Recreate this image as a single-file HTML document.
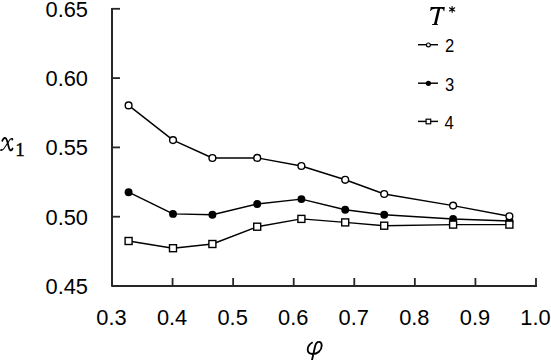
<!DOCTYPE html>
<html><head><meta charset="utf-8"><style>
html,body{margin:0;padding:0;background:#fff;}
svg{display:block;}
.lab{font-family:"Liberation Sans",sans-serif;font-size:22.5px;fill:#000;}
.leg{font-family:"Liberation Sans",sans-serif;font-size:17.5px;fill:#000;}
.mi{font-family:"Liberation Serif",serif;font-style:italic;fill:#000;}
.rm{font-family:"Liberation Serif",serif;fill:#000;}
</style></head><body>
<svg width="551" height="360" viewBox="0 0 551 360">
<path d="M112.0 8 V286.0 H536.99" fill="none" stroke="#262626" stroke-width="2" stroke-linejoin="round"/>
<text transform="translate(88,293.80) scale(0.97,1)" class="lab" text-anchor="end">0.45</text>
<line x1="112.0" y1="216.70" x2="120" y2="216.70" stroke="#262626" stroke-width="1.8"/>
<text transform="translate(88,224.50) scale(0.97,1)" class="lab" text-anchor="end">0.50</text>
<line x1="112.0" y1="147.40" x2="120" y2="147.40" stroke="#262626" stroke-width="1.8"/>
<text transform="translate(88,155.20) scale(0.97,1)" class="lab" text-anchor="end">0.55</text>
<line x1="112.0" y1="78.10" x2="120" y2="78.10" stroke="#262626" stroke-width="1.8"/>
<text transform="translate(88,85.90) scale(0.97,1)" class="lab" text-anchor="end">0.60</text>
<line x1="112.0" y1="8.80" x2="120" y2="8.80" stroke="#262626" stroke-width="1.8"/>
<text transform="translate(88,16.60) scale(0.97,1)" class="lab" text-anchor="end">0.65</text>
<text transform="translate(111.50,325.3) scale(0.97,1)" class="lab" text-anchor="middle">0.3</text>
<line x1="172.57" y1="278" x2="172.57" y2="286.0" stroke="#262626" stroke-width="1.8"/>
<text transform="translate(172.07,325.3) scale(0.97,1)" class="lab" text-anchor="middle">0.4</text>
<line x1="233.14" y1="278" x2="233.14" y2="286.0" stroke="#262626" stroke-width="1.8"/>
<text transform="translate(232.64,325.3) scale(0.97,1)" class="lab" text-anchor="middle">0.5</text>
<line x1="293.71" y1="278" x2="293.71" y2="286.0" stroke="#262626" stroke-width="1.8"/>
<text transform="translate(293.21,325.3) scale(0.97,1)" class="lab" text-anchor="middle">0.6</text>
<line x1="354.28" y1="278" x2="354.28" y2="286.0" stroke="#262626" stroke-width="1.8"/>
<text transform="translate(353.78,325.3) scale(0.97,1)" class="lab" text-anchor="middle">0.7</text>
<line x1="414.85" y1="278" x2="414.85" y2="286.0" stroke="#262626" stroke-width="1.8"/>
<text transform="translate(414.35,325.3) scale(0.97,1)" class="lab" text-anchor="middle">0.8</text>
<line x1="475.42" y1="278" x2="475.42" y2="286.0" stroke="#262626" stroke-width="1.8"/>
<text transform="translate(474.92,325.3) scale(0.97,1)" class="lab" text-anchor="middle">0.9</text>
<line x1="535.99" y1="278" x2="535.99" y2="286.0" stroke="#262626" stroke-width="1.8"/>
<text transform="translate(535.49,325.3) scale(0.97,1)" class="lab" text-anchor="middle">1.0</text>
<polyline points="128.6,192.2 173.0,213.9 212.4,214.8 257.2,204.0 301.4,199.1 345.2,209.8 384.2,214.8 453.1,219.0 509.4,221.0" fill="none" stroke="#000" stroke-width="1.45" stroke-linejoin="round"/>
<polyline points="128.6,105.4 173.0,140.1 212.4,158.0 257.2,157.9 301.4,166.0 345.2,179.8 384.2,194.0 453.1,205.6 509.4,216.3" fill="none" stroke="#000" stroke-width="1.45" stroke-linejoin="round"/>
<polyline points="128.6,241.0 173.0,248.2 212.4,244.0 257.2,226.7 301.4,218.9 345.2,222.4 384.2,225.7 453.1,224.6 509.4,224.6" fill="none" stroke="#000" stroke-width="1.45" stroke-linejoin="round"/>
<circle cx="128.6" cy="192.2" r="3.95" fill="#000"/>
<circle cx="173.0" cy="213.9" r="3.95" fill="#000"/>
<circle cx="212.4" cy="214.8" r="3.95" fill="#000"/>
<circle cx="257.2" cy="204.0" r="3.95" fill="#000"/>
<circle cx="301.4" cy="199.1" r="3.95" fill="#000"/>
<circle cx="345.2" cy="209.8" r="3.95" fill="#000"/>
<circle cx="384.2" cy="214.8" r="3.95" fill="#000"/>
<circle cx="453.1" cy="219.0" r="3.95" fill="#000"/>
<circle cx="509.4" cy="221.0" r="3.95" fill="#000"/>
<circle cx="128.6" cy="105.4" r="3.4" fill="#fff" stroke="#000" stroke-width="1.4"/>
<circle cx="173.0" cy="140.1" r="3.4" fill="#fff" stroke="#000" stroke-width="1.4"/>
<circle cx="212.4" cy="158.0" r="3.4" fill="#fff" stroke="#000" stroke-width="1.4"/>
<circle cx="257.2" cy="157.9" r="3.4" fill="#fff" stroke="#000" stroke-width="1.4"/>
<circle cx="301.4" cy="166.0" r="3.4" fill="#fff" stroke="#000" stroke-width="1.4"/>
<circle cx="345.2" cy="179.8" r="3.4" fill="#fff" stroke="#000" stroke-width="1.4"/>
<circle cx="384.2" cy="194.0" r="3.4" fill="#fff" stroke="#000" stroke-width="1.4"/>
<circle cx="453.1" cy="205.6" r="3.4" fill="#fff" stroke="#000" stroke-width="1.4"/>
<circle cx="509.4" cy="216.3" r="3.4" fill="#fff" stroke="#000" stroke-width="1.4"/>
<rect x="125.10" y="237.50" width="7" height="7" fill="#fff" stroke="#000" stroke-width="1.4"/>
<rect x="169.50" y="244.70" width="7" height="7" fill="#fff" stroke="#000" stroke-width="1.4"/>
<rect x="208.90" y="240.50" width="7" height="7" fill="#fff" stroke="#000" stroke-width="1.4"/>
<rect x="253.70" y="223.20" width="7" height="7" fill="#fff" stroke="#000" stroke-width="1.4"/>
<rect x="297.90" y="215.40" width="7" height="7" fill="#fff" stroke="#000" stroke-width="1.4"/>
<rect x="341.70" y="218.90" width="7" height="7" fill="#fff" stroke="#000" stroke-width="1.4"/>
<rect x="380.70" y="222.20" width="7" height="7" fill="#fff" stroke="#000" stroke-width="1.4"/>
<rect x="449.60" y="221.10" width="7" height="7" fill="#fff" stroke="#000" stroke-width="1.4"/>
<rect x="505.90" y="221.10" width="7" height="7" fill="#fff" stroke="#000" stroke-width="1.4"/>
<line x1="418" y1="44.7" x2="438" y2="44.7" stroke="#000" stroke-width="1.45"/>
<line x1="418" y1="83.2" x2="438" y2="83.2" stroke="#000" stroke-width="1.45"/>
<line x1="418" y1="121.4" x2="438" y2="121.4" stroke="#000" stroke-width="1.45"/>
<circle cx="428.4" cy="44.9" r="1.9" fill="#fff" stroke="#000" stroke-width="1.2"/>
<circle cx="428.4" cy="83.3" r="2.6" fill="#000"/>
<rect x="426.1" y="119.2" width="4.6" height="4.6" fill="#fff" stroke="#000" stroke-width="1.2"/>
<text transform="translate(445,51.7) scale(0.95,1)" class="leg">2</text>
<text transform="translate(445,90.7) scale(0.95,1)" class="leg">3</text>
<text transform="translate(444.4,128.8) scale(0.95,1)" class="leg">4</text>
<path d="M430.7,7 L444.8,7 L444.3,11.3 L443.7,11.3 C443.6,9.8 443,8.8 441.4,8.8 L440.2,8.8 L436.8,23.6 C436.7,24.1 437.2,24.2 437.9,24.2 L437.8,25 L432,25 L432.1,24.2 C433.2,24.2 433.9,24 434.1,23.6 L437.6,8.8 L435.6,8.8 C433,8.8 431.6,9.6 430.9,11 L430.2,11 Z" fill="#000"/>
<g stroke="#000" stroke-width="1.15" stroke-linecap="round"><path d="M452.1,9.4 L452.1,6.6 M452.1,9.4 L452.2,12.3 M452.1,9.4 L449.5,7.8 M452.1,9.4 L454.7,7.8 M452.1,9.4 L449.5,11 M452.1,9.4 L454.7,11"/></g>
<g transform="translate(0.3,0) scale(0.92,1)">
<path d="M2.2,140.8 C2.9,138.6 4.4,137.7 5.7,138.2 C7.1,138.8 7.8,141.8 8.6,145 C9.3,148 10,150.3 11.4,150.4 C12.3,150.4 12.9,149.6 13.3,148.6" fill="none" stroke="#000" stroke-width="1.95" stroke-linecap="round"/>
<path d="M13.4,138.9 C12.6,138.2 11.4,138.6 10.4,139.7 L4.2,148.2 C3.2,149.6 2,150.5 0.6,150.2" fill="none" stroke="#000" stroke-width="1.1" stroke-linecap="round"/>
<circle cx="13.0" cy="139.4" r="1.05" fill="#000"/>
<circle cx="1.0" cy="149.9" r="0.95" fill="#000"/>
</g>
<text x="15.2" y="156.3" class="rm" font-size="19" stroke="#000" stroke-width="0.35">1</text>
<path d="M312.7,342.2 C309.8,343.8 307.6,346.6 307.7,349.8 C307.8,352.6 310,354 312.7,354 C317.2,354 321.7,350.6 321.7,345.8 C321.7,343.3 320.6,341.9 318.9,341.9 C317,341.9 315.8,343.6 315.1,346.2 L311.8,361" fill="none" stroke="#000" stroke-width="1.85"/>
</svg>
</body></html>
